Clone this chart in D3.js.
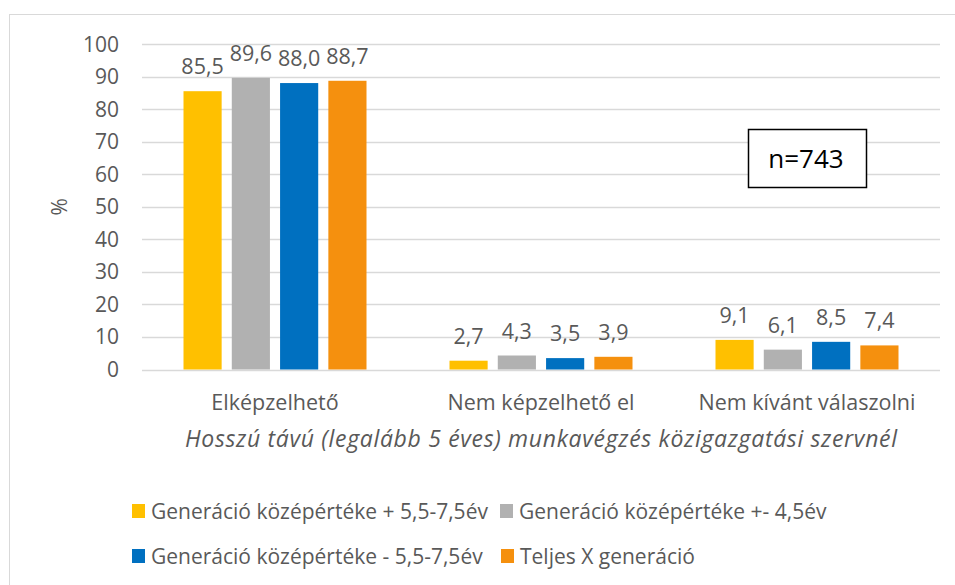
<!DOCTYPE html>
<html>
<head>
<meta charset="utf-8">
<script src="https://cdn.jsdelivr.net/npm/d3@7"></script>
<style>
  body { margin: 0; background: #fff; }
  text { font-family: "Open Sans", sans-serif; fill: #595959; }
</style>
</head>
<body>
<svg id="chart" width="955" height="585"></svg>
<script>
const categories = ["Elképzelhető", "Nem képzelhető el", "Nem kívánt válaszolni"];
const seriesNames = [
    "Generáció középértéke + 5,5-7,5év",
    "Generáció középértéke +- 4,5év",
    "Generáció középértéke - 5,5-7,5év",
    "Teljes X generáció"
];
const seriesColors = ["#FFC000", "#B1B1B1", "#0070C0", "#F5900E"];
const seriesValues = [
    [85.5, 2.7, 9.1],
    [89.6, 4.3, 6.1],
    [88.0, 3.5, 8.5],
    [88.7, 3.9, 7.4]
];
const yTicks = [0, 10, 20, 30, 40, 50, 60, 70, 80, 90, 100];
const xTitle = "Hosszú távú (legalább 5 éves) munkavégzés közigazgatási szervnél";
const yTitle = "%";
const note = "n=743";

const svg = d3.select("#chart");

// outer chart frame (right and bottom are cut off in the original)
svg.append("rect")
    .attr("x", 9.5).attr("y", 14.5)
    .attr("width", 1200).attr("height", 1200)
    .attr("fill", "none").attr("stroke", "#d9d9d9");

const plot = { left: 142, right: 940, top: 44, bottom: 369.5 };

const x0 = d3.scaleBand()
    .domain(categories)
    .range([plot.left, plot.right]);

const x1 = d3.scaleBand()
    .domain(d3.range(seriesNames.length))
    .range([0, 183])
    .paddingInner(0.21);

const y = d3.scaleLinear()
    .domain([0, 100])
    .range([plot.bottom, plot.top]);

// gridlines
svg.append("g")
    .selectAll("line")
    .data(yTicks)
    .join("line")
        .attr("x1", plot.left)
        .attr("x2", plot.right)
        .attr("y1", d => Math.round(y(d)) + 0.5)
        .attr("y2", d => Math.round(y(d)) + 0.5)
        .attr("stroke", "#d9d9d9")
        .attr("stroke-width", 1.5);

// y tick labels
svg.append("g")
    .selectAll("text")
    .data(yTicks)
    .join("text")
        .attr("x", 119)
        .attr("y", d => y(d) + 7.5)
        .attr("text-anchor", "end")
        .style("font-size", "21px")
        .text(d => d);

svg.append("text")
    .attr("transform", `translate(67 ${(plot.top + plot.bottom) / 2}) rotate(-90)`)
    .attr("text-anchor", "middle")
    .style("font-size", "21px")
    .text(yTitle);

const groups = svg.append("g")
    .selectAll("g")
    .data(categories)
    .join("g")
        .attr("transform", d => `translate(${x0(d) + (x0.bandwidth() - 183) / 2} 0)`);

const cells = groups.selectAll("g")
    .data((c, ci) => seriesValues.map((vals, si) => ({ si: si, v: vals[ci] })))
    .join("g");

cells.append("rect")
    .attr("x", d => x1(d.si))
    .attr("width", x1.bandwidth())
    .attr("y", d => y(d.v))
    .attr("height", d => y(0) - y(d.v))
    .attr("fill", d => seriesColors[d.si]);

cells.append("text")
    .attr("x", d => x1(d.si) + x1.bandwidth() / 2)
    .attr("y", d => y(d.v) - 17)
    .attr("text-anchor", "middle")
    .style("font-size", "21.5px")
    .text(d => d3.format(".1f")(d.v).replace(".", ","));

// category labels
svg.append("g")
    .selectAll("text")
    .data(categories)
    .join("text")
        .attr("x", d => x0(d) + x0.bandwidth() / 2)
        .attr("y", 410)
        .attr("text-anchor", "middle")
        .style("font-size", "21.5px")
        .text(d => d);

svg.append("text")
    .attr("x", (plot.left + plot.right) / 2)
    .attr("y", 447)
    .attr("text-anchor", "middle")
    .attr("textLength", 712)
    .attr("lengthAdjust", "spacing")
    .style("font-size", "23px")
    .style("font-style", "italic")
    .text(xTitle);

// n box
svg.append("rect")
    .attr("x", 748.5).attr("y", 129.5)
    .attr("width", 118).attr("height", 58)
    .attr("fill", "#fff").attr("stroke", "#000").attr("stroke-width", 1.5);
svg.append("text")
    .attr("x", 806).attr("y", 168)
    .attr("text-anchor", "middle")
    .style("font-size", "26px")
    .style("fill", "#000")
    .text(note);

// legend
const legendPos = [[132, 504], [500, 504], [132, 549], [501, 549]];
const legend = svg.append("g")
    .selectAll("g")
    .data(seriesNames)
    .join("g")
        .attr("transform", (d, i) => `translate(${legendPos[i][0]} ${legendPos[i][1]})`);

legend.append("rect")
    .attr("width", 13).attr("height", 14)
    .attr("fill", (d, i) => seriesColors[i]);

legend.append("text")
    .attr("x", 19)
    .attr("y", 14.5)
    .style("font-size", "21px")
    .text(d => d);
</script>
</body>
</html>
